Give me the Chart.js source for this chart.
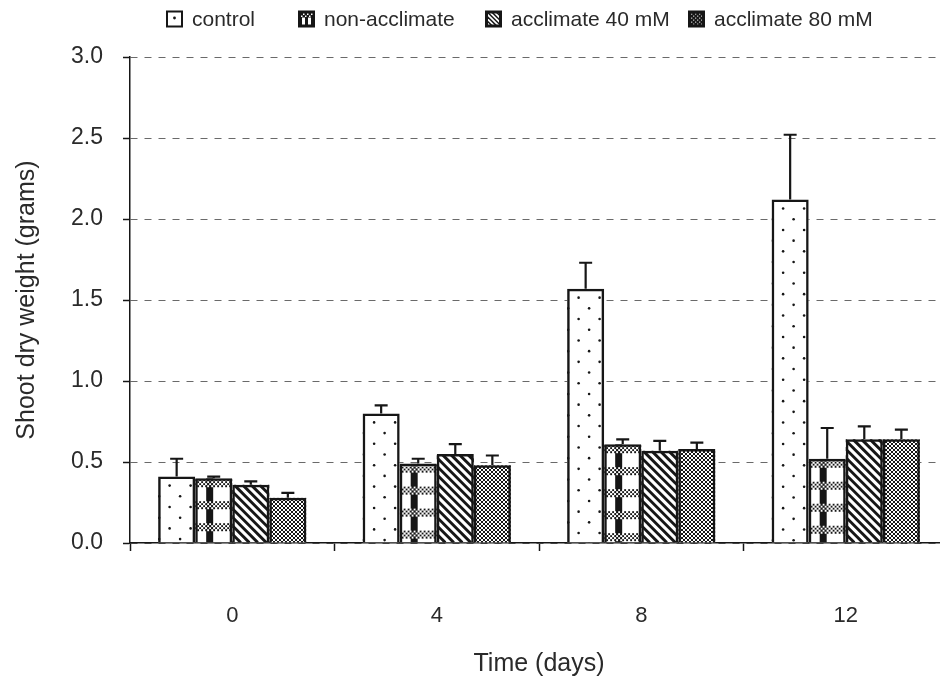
<!DOCTYPE html>
<html>
<head>
<meta charset="utf-8">
<script src="https://cdn.jsdelivr.net/npm/chart.js@4.4.0/dist/chart.umd.min.js"></script>
<style>
html,body{margin:0;padding:0;background:#fff;width:940px;height:679px;overflow:hidden}
canvas{display:block}
</style>
</head>
<body>
<canvas id="c" width="948" height="679" style="width:948px;height:679px"></canvas>
<script>
// ---- data ----
const categories = ['0', '4', '8', '12'];
const seriesNames = ['control', 'non-acclimate', 'acclimate 40 mM', 'acclimate 80 mM'];
const control = [0.41, 0.80, 1.57, 2.12];
const nonAcclimate = [0.40, 0.49, 0.61, 0.52];
const acclimate40 = [0.36, 0.55, 0.57, 0.64];
const acclimate80 = [0.28, 0.48, 0.58, 0.64];
const controlErr = [0.11, 0.05, 0.16, 0.40];
const nonAcclimateErr = [0.01, 0.03, 0.03, 0.19];
const acclimate40Err = [0.02, 0.06, 0.06, 0.08];
const acclimate80Err = [0.03, 0.06, 0.04, 0.06];
const yTicks = [0, 0.5, 1.0, 1.5, 2.0, 2.5, 3.0];
const xTitle = 'Time (days)';
const yTitle = 'Shoot dry weight (grams)';

const seriesValues = [control, nonAcclimate, acclimate40, acclimate80];
const seriesErrors = [controlErr, nonAcclimateErr, acclimate40Err, acclimate80Err];

const INK = '#161616';
const TEXT = '#2a2a2a';
const FAMILY = '"Liberation Sans", Arial, sans-serif';

// 80 mM crosshatch tile
function makeHatch(c) {
  const t = document.createElement('canvas');
  t.width = 4; t.height = 4;
  const g = t.getContext('2d');
  g.fillStyle = '#fff'; g.fillRect(0, 0, 4, 4);
  g.fillStyle = INK;
  for (let i = 0; i < 4; i++) for (let j = 0; j < 4; j++) {
    if (i === j || i + j === 3) g.fillRect(i, j, 1, 1);
  }
  return c.createPattern(t, 'repeat');
}

function texture(ctx, idx, x, y, w, h, s) {
  ctx.save();
  ctx.beginPath(); ctx.rect(x, y, w, h); ctx.clip();
  ctx.fillStyle = '#fff'; ctx.fillRect(x, y, w, h);
  ctx.fillStyle = INK; ctx.strokeStyle = INK;
  if (idx === 0) {
    const dx = 21 * s, dy = 10.7 * s;
    for (let r = 0; 9 * s + r * dy < h + dy; r++) {
      const cy = y + 9 * s + r * dy;
      const off = (r % 2 === 0) ? 11.5 * s : 1 * s;
      for (let cx = x + off; cx < x + w + dx; cx += dx) {
        ctx.beginPath(); ctx.arc(cx, cy, 1.3, 0, Math.PI * 2); ctx.fill();
      }
    }
  } else if (idx === 1) {
    ctx.fillRect(x + 11 * s, y, 7 * s, h);
    for (let by = y + 1; by < y + h; by += 22 * s) {
      for (let yy = 0; yy < 8 * s; yy += 2) {
        for (let xx = 0; xx < w; xx += 2) {
          ctx.fillStyle = (((xx + yy) / 2) % 2 === 0) ? INK : '#fff';
          ctx.fillRect(x + xx, by + yy, 2, 2);
        }
      }
    }
  } else if (idx === 2) {
    const p = 8.5 * s;
    ctx.lineWidth = Math.max(3 * s, 2);
    for (let x0 = x - h - p; x0 < x + w + p; x0 += p) {
      ctx.beginPath(); ctx.moveTo(x0, y); ctx.lineTo(x0 + h, y + h); ctx.stroke();
    }
  } else {
    ctx.fillStyle = makeHatch(ctx);
    ctx.fillRect(x, y, w, h);
  }
  ctx.restore();
}

const texturePlugin = {
  id: 'texture',
  beforeDatasetsDraw(chart) {
    const ctx = chart.ctx;
    chart.data.datasets.forEach((ds, i) => {
      const meta = chart.getDatasetMeta(i);
      meta.data.forEach(el => {
        const p = el.getProps(['x', 'y', 'base', 'width'], true);
        const top = Math.min(p.y, p.base), h = Math.abs(p.base - p.y);
        texture(ctx, i, p.x - p.width / 2, top, p.width, h, 1);
      });
    });
  }
};

const errorBarPlugin = {
  id: 'errorBars',
  afterDatasetsDraw(chart) {
    const ctx = chart.ctx;
    const ys = chart.scales.y;
    ctx.save();
    ctx.strokeStyle = INK;
    ctx.lineWidth = 2.2;
    chart.data.datasets.forEach((ds, i) => {
      const meta = chart.getDatasetMeta(i);
      meta.data.forEach((el, j) => {
        const v = seriesValues[i][j], e = seriesErrors[i][j];
        if (!e) return;
        const yTop = ys.getPixelForValue(v + e);
        const yBar = ys.getPixelForValue(v);
        ctx.beginPath();
        ctx.moveTo(el.x, yBar); ctx.lineTo(el.x, yTop);
        ctx.moveTo(el.x - 6.5, yTop); ctx.lineTo(el.x + 6.5, yTop);
        ctx.stroke();
      });
    });
    ctx.restore();
  }
};

const legendPlugin = {
  id: 'patternLegend',
  afterDraw(chart) {
    const ctx = chart.ctx;
    const boxX = [167, 299, 486, 689];
    const box = 15, cy = 19;
    ctx.save();
    ctx.font = '21px ' + FAMILY;
    ctx.textBaseline = 'middle';
    ctx.fillStyle = TEXT;
    chart.data.datasets.forEach((ds, i) => {
      const bx = boxX[i], by = cy - box / 2;
      if (i === 0) {
        ctx.fillStyle = '#fff'; ctx.fillRect(bx, by, box, box);
        ctx.fillStyle = INK; ctx.beginPath(); ctx.arc(bx + box / 2, by + box / 2 - 1, 1.4, 0, Math.PI * 2); ctx.fill();
      } else if (i === 1) {
        ctx.fillStyle = INK; ctx.fillRect(bx, by, box, box);
        ctx.fillStyle = '#fff'; ctx.fillRect(bx + 3, by + 6, 3, box - 8);
        ctx.fillRect(bx + box - 6, by + 6, 3, box - 8);
        for (let xx = 2; xx < box - 2; xx += 2) ctx.fillRect(bx + xx, by + 2 + (xx % 4 === 0 ? 0 : 2), 1.5, 1.5);
      } else if (i === 2) {
        ctx.fillStyle = INK; ctx.fillRect(bx, by, box, box);
        ctx.save(); ctx.beginPath(); ctx.rect(bx + 2, by + 2, box - 4, box - 4); ctx.clip();
        ctx.strokeStyle = '#fff'; ctx.lineWidth = 1.6;
        for (let k = -box; k < box; k += 4.5) { ctx.beginPath(); ctx.moveTo(bx + k, by); ctx.lineTo(bx + k + box, by + box); ctx.stroke(); }
        ctx.restore();
      } else {
        ctx.fillStyle = INK; ctx.fillRect(bx, by, box, box);
        ctx.save(); ctx.beginPath(); ctx.rect(bx + 2, by + 2, box - 4, box - 4); ctx.clip();
        ctx.fillStyle = '#bbb';
        for (let yy = 0; yy < box; yy += 2) for (let xx = (yy % 4); xx < box; xx += 4) ctx.fillRect(bx + xx, by + yy, 1.3, 1.3);
        ctx.restore();
      }
      ctx.strokeStyle = INK; ctx.lineWidth = 2;
      ctx.strokeRect(bx, by, box, box);
      ctx.fillStyle = TEXT;
      ctx.fillText(ds.label, bx + box + 10, cy + 1);
    });
    ctx.restore();
  }
};

new Chart(document.getElementById('c'), {
  type: 'bar',
  data: {
    labels: categories,
    datasets: seriesNames.map((name, i) => ({
      label: name,
      data: seriesValues[i],
      backgroundColor: 'rgba(0,0,0,0)',
      borderColor: INK,
      borderWidth: 2.5,
      categoryPercentage: 0.725,
      barPercentage: 1.0
    }))
  },
  options: {
    responsive: false,
    animation: false,
    layout: { padding: { top: 57, left: 0, right: 0, bottom: 0 } },
    plugins: { legend: { display: false }, tooltip: { enabled: false } },
    scales: {
      x: {
        offset: true,
        grid: { display: true, offset: true, drawOnChartArea: false, drawTicks: true, tickLength: 8, tickColor: INK, tickWidth: 1.5 },
        border: { display: true, color: INK, width: 1.5 },
        ticks: { color: TEXT, font: { family: FAMILY, size: 22 }, padding: 52, maxRotation: 0 },
        title: { display: true, text: xTitle, color: TEXT, font: { family: FAMILY, size: 25 }, padding: { top: 0, bottom: 0 } },
        afterFit: s => { s.height = 136; }
      },
      y: {
        min: 0, max: 3,
        afterBuildTicks: s => { s.ticks = yTicks.map(v => ({ value: v })); },
        ticks: { color: TEXT, font: { family: FAMILY, size: 23 }, padding: 20, callback: v => Number(v).toFixed(1) },
        grid: { color: '#6a6a6a', lineWidth: 1, drawTicks: true, tickLength: 7, tickColor: INK, tickWidth: 1.5, tickBorderDash: [] },
        border: { display: true, color: INK, width: 1.5, dash: [7, 7] },
        title: { display: true, text: yTitle, color: TEXT, font: { family: FAMILY, size: 25 }, padding: { top: 12, bottom: 0 } },
        afterFit: s => { s.width = 130; }
      }
    }
  },
  plugins: [texturePlugin, errorBarPlugin, legendPlugin]
});
</script>
</body>
</html>
